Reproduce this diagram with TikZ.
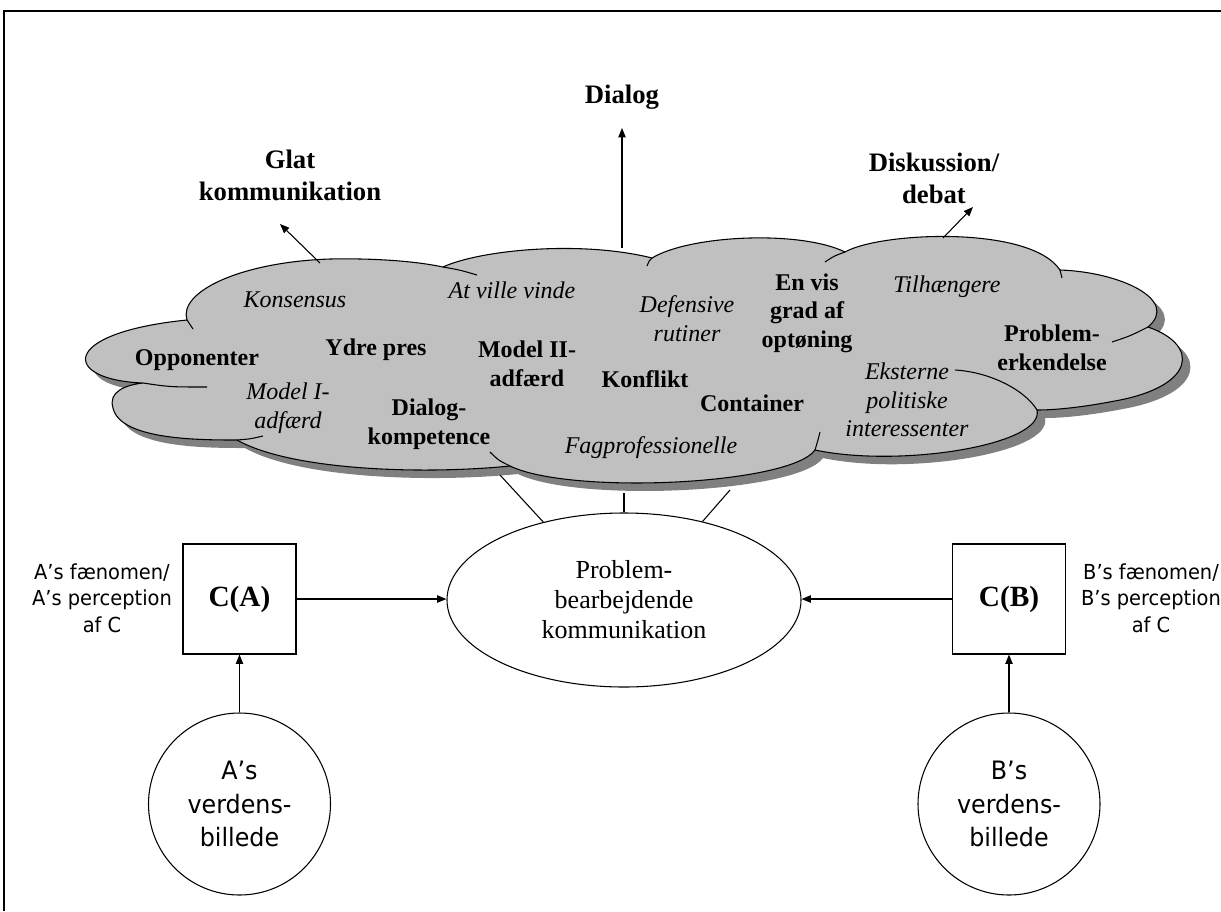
\documentclass[tikz,border=0pt]{standalone}
\usepackage{fontspec}
\setmainfont{Liberation Serif}
\newfontfamily\tahoma[FakeStretch=0.94]{DejaVu Sans}
\usetikzlibrary{arrows.meta,shapes.geometric}
\definecolor{cloudgray}{HTML}{C0C0C0}
\definecolor{shadowgray}{HTML}{808080}
\begin{document}
\begin{tikzpicture}[x=0.75pt,y=-0.75pt,
  line width=0.8pt,
  arr/.style={-{Triangle[length=7pt,width=5.5pt]}},
  cbold/.style={font=\fontsize{18}{21.5}\selectfont\bfseries,align=center,inner sep=0pt},
  cital/.style={font=\fontsize{18}{21.5}\selectfont\itshape,align=center,inner sep=0pt},
  head/.style={font=\fontsize{20}{24}\selectfont\bfseries,align=center,inner sep=0pt},
  cbox/.style={draw,minimum width=84.75pt,minimum height=82.5pt,inner sep=0pt,font=\fontsize{22}{26}\selectfont\bfseries},
  wcirc/.style={draw,circle,minimum size=136.5pt,inner sep=0pt,align=center,font=\tahoma\fontsize{19}{25}\selectfont},
  slabel/.style={align=center,inner sep=0pt,font=\tahoma\fontsize{15.5}{19.8}\selectfont}
]
\useasboundingbox (0,0) rectangle (1221,911);
% frame
\draw[line width=1pt] (4,911) -- (4,11) -- (1221,11);

\def\cloudpath{(143,383) .. controls (62,380) and (58,333) .. (187,320)
 .. controls (178,292) and (240,262) .. (330,259)
 .. controls (380,258) and (420,262) .. (443,267)
 .. controls (480,250) and (580,240) .. (652,258)
 .. controls (690,235) and (800,230) .. (845,252)
 .. controls (880,232) and (1030,225) .. (1060,270)
 .. controls (1120,272) and (1180,300) .. (1148,327)
 .. controls (1200,345) and (1195,385) .. (1120,400)
 .. controls (1090,406) and (1060,410) .. (1037,410)
 .. controls (1045,445) and (900,468) .. (815,450)
 .. controls (790,485) and (570,495) .. (510,466)
 .. controls (420,475) and (290,470) .. (237,440)
 .. controls (200,440) and (120,440) .. (113,408)
 .. controls (108,392) and (125,385) .. (143,383) -- cycle}

% cloud shadow and body
\begin{scope}[shift={(8,8)}]
  \fill[shadowgray] \cloudpath;
\end{scope}
\fill[cloudgray] \cloudpath;
\draw \cloudpath;
% inner tails of the cloud arcs
\draw (187,320) -- (193,329);
\draw (143,383) .. controls (170,387) .. (207,387);
\draw (237,440) .. controls (250,439) .. (263,436);
\draw (510,466) .. controls (498,460) .. (490,452);
\draw (443,267) .. controls (460,270) .. (477,275);
\draw (652,258) .. controls (649,261) .. (647,266);
\draw (845,252) .. controls (834,256) .. (825,262);
\draw (1060,270) -- (1062,278);
\draw (1148,327) .. controls (1130,336) .. (1112,342);
\draw (815,450) .. controls (818,440) .. (820,432);
\draw (1037,410) .. controls (1025,390) and (990,372) .. (955,370);

% cloud texts
\node[cbold] (opp) at (197,360) {Opponenter};
\node[cital] (kons) at (295,300) {Konsensus};
\node[cbold] (ydre) at (376,350) {Ydre pres};
\node[cital] (model1) at (288,408) {Model I-\\adfærd};
\node[cbold] (dialogk) at (429,424) {Dialog-\\kompetence};
\node[cital] (atville) at (512,290) {At ville vinde};
\node[cbold] (model2) at (527,364) {Model II-\\adfærd};
\node[cbold] (konflikt) at (645,379) {Konflikt};
\node[cital] (fagpro) at (651,448) {Fagprofessionelle};
\node[cital] (defens) at (687,319) {Defensive\\rutiner};
\node[cbold] (envis) at (807,313) {En vis\\grad af\\optøning};
\node[cbold] (container) at (752,403) {Container};
\node[cital] (ekst) at (907,400) {Eksterne\\politiske\\interessenter};
\node[cital] (tilh) at (947,287) {Tilhængere};
\node[cbold] (probl) at (1052,348) {Problem-\\erkendelse};

% headings
\node[head] (glat) at (290,175) {Glat\\kommunikation};
\node[head] (dialog) at (622,97) {Dialog};
\node[head] (disk) at (934,178) {Diskussion/\\debat};

% arrows out of the cloud
\coordinate (gbase) at (320,263);
\coordinate (gtip) at (280,224);
\coordinate (dbase) at (622,248);
\coordinate (dtip) at (622,128);
\coordinate (kbase) at (943,238);
\coordinate (ktip) at (973,207);
\draw[arr] (gbase) -- (gtip);
\draw[arr] (dbase) -- (dtip);
\draw[arr] (kbase) -- (ktip);

% central ellipse
\node[draw,ellipse,minimum width=265.5pt,minimum height=130.5pt,inner sep=0pt,align=center,
      font=\fontsize{19.5}{22.5}\selectfont] (ell) at (624,600)
  {Problem-\\bearbejdende\\kommunikation};

% lines from cloud to ellipse
\coordinate (l1) at (500,475);
\coordinate (l2) at (624,493);
\coordinate (l3) at (730,490);
\draw (l1) -- (ell.136);
\draw (l2) -- (ell.north);
\draw (l3) -- (ell.45);

% boxes
\node[cbox] (ca) at (239.5,599) {C(A)};
\node[cbox] (cb) at (1009,599) {C(B)};
\draw[arr] (ca.east) -- (ca.east -| ell.west);
\draw[arr] (cb.west) -- (cb.west -| ell.east);

% circles
\node[wcirc] (wa) at (239.5,804) {A’s\\verdens-\\billede};
\node[wcirc] (wb) at (1009,804) {B’s\\verdens-\\billede};
\draw[arr] (wa) -- (ca);
\draw[arr] (wb) -- (cb);

% side labels
\node[slabel] (la) at (102,598) {A’s fænomen/\\A’s perception\\af C};
\node[slabel] (lb) at (1151,598) {B’s fænomen/\\B’s perception\\af C};
\end{tikzpicture}
\end{document}
